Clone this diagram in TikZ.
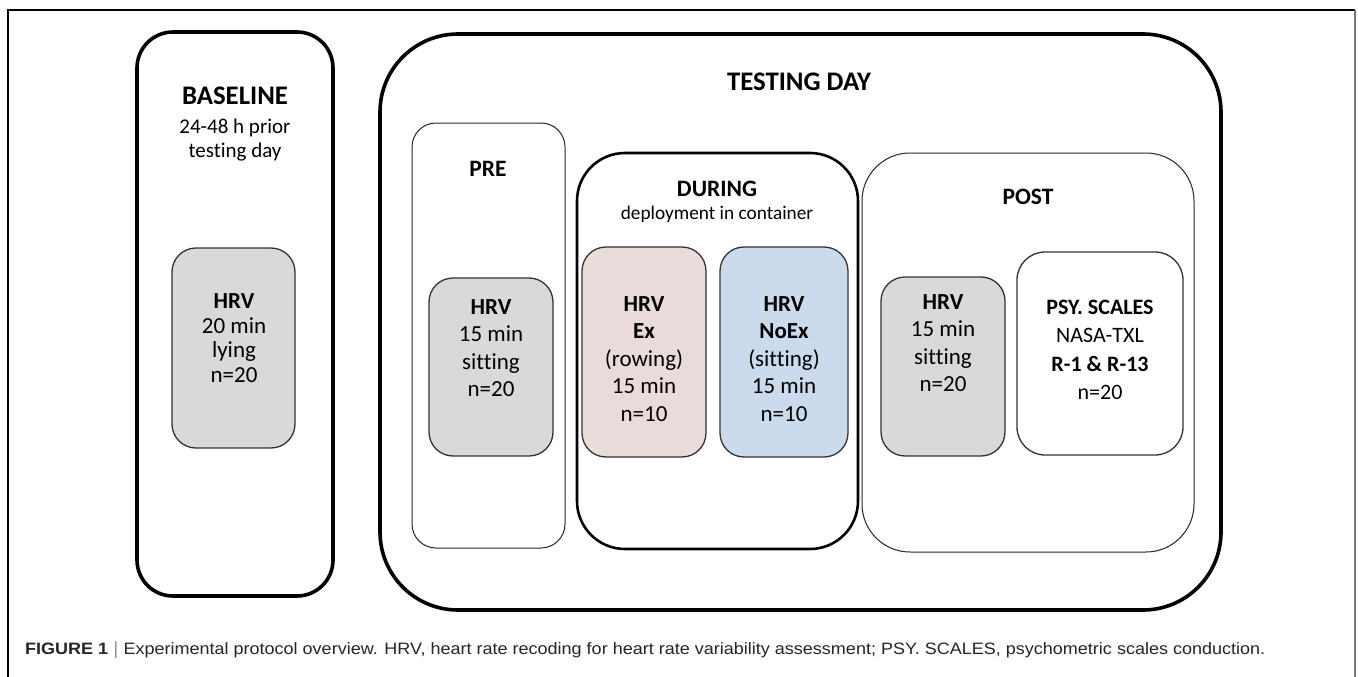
\documentclass[tikz,border=0pt]{standalone}
\usepackage{fontspec}
\setmainfont{Carlito}[Ligatures=NoCommon]
\newfontfamily\capfont{Liberation Sans}
\usepackage{graphicx}
\definecolor{hrvgray}{RGB}{217,217,217}
\definecolor{expink}{RGB}{234,219,219}
\definecolor{noexblue}{RGB}{204,218,238}
\definecolor{framegray}{RGB}{120,120,120}
\begin{document}
\begin{tikzpicture}[x=1pt,y=-1pt,
  thickbox/.style={draw=black, line width=3.6pt},
  midbox/.style={draw=black, line width=2.6pt},
  thinbox/.style={draw=black!85, line width=1pt},
  inner/.style={draw=black!80, line width=1.3pt},
  head/.style={font=\bfseries\fontsize{26.8}{30}\selectfont, inner sep=0pt},
  subhead/.style={font=\bfseries\fontsize{23.5}{26}\selectfont, inner sep=0pt},
  body/.style={align=center, inner sep=0pt, font=\fontsize{23}{27.5}\selectfont},
]
\useasboundingbox (0,0) rectangle (1358,677);
\fill[white] (0,0) rectangle (1358,677);
% outer frame
\draw[line width=1.2pt, black] (8,677) -- (8,10) -- (1355,10);
\draw[line width=1.5pt, framegray] (1355,10) -- (1355,677);

% main boxes
\draw[thickbox, rounded corners=36pt] (137,32) rectangle (333,596);
\draw[thickbox, rounded corners=78pt] (380,34) rectangle (1221,610);
\draw[thinbox, rounded corners=24pt] (412,123) rectangle (565,548);
\draw[midbox, rounded corners=48pt] (577,153) rectangle (858,549);
\draw[thinbox, rounded corners=48pt] (862,153) rectangle (1194,552);

% inner boxes
\draw[inner, fill=hrvgray, rounded corners=24pt] (172,248) rectangle (295,448);
\draw[inner, fill=hrvgray, rounded corners=24pt] (429,278) rectangle (553,456);
\draw[inner, fill=expink, rounded corners=24pt] (582,247) rectangle (706,457);
\draw[inner, fill=noexblue, rounded corners=24pt] (720,247) rectangle (848,457);
\draw[inner, fill=hrvgray, rounded corners=24pt] (881,277) rectangle (1005,456);
\draw[inner, fill=white, rounded corners=28pt] (1017,252) rectangle (1183,455);

% headings
\node[head] (baseline) at (235,96) {BASELINE};
\node[body, font=\fontsize{21}{23.5}\selectfont] (bsub) at (235,140) {24-48 h prior\\testing day};
\node[head] (testing) at (799,82) {TESTING DAY};
\node[subhead] (pre) at (488,169) {PRE};
\node[subhead] (during) at (717,189) {DURING};
\node[inner sep=0pt, font=\fontsize{19.3}{22}\selectfont] (dsub) at (717,214) {deployment in container};
\node[subhead] (post) at (1028,197) {POST};

% inner texts
\node[body, font=\fontsize{23}{24.5}\selectfont] (bhrv) at (234,338) {\textbf{HRV}\\20 min\\lying\\n=20};
\node[body] (prehrv) at (491,348) {\textbf{HRV}\\15 min\\sitting\\n=20};
\node[body] (ex) at (644,359) {\textbf{HRV}\\\textbf{Ex}\\(rowing)\\15 min\\n=10};
\node[body] (noex) at (784,359) {\textbf{HRV}\\\textbf{NoEx}\\(sitting)\\15 min\\n=10};
\node[body] (posthrv) at (943,343) {\textbf{HRV}\\15 min\\sitting\\n=20};
\node[body, font=\fontsize{22}{28.5}\selectfont] (psy) at (1100,350) {\textbf{PSY. SCALES}\\NASA-TXL\\\textbf{R-1 \& R-13}\\n=20};

% caption
\node[anchor=west, inner sep=0pt, font=\capfont\fontsize{16.5}{19}\selectfont, text=black!85] (cap) at (25,650)
  {\resizebox{1240pt}{\height}{\textbf{FIGURE 1} $|$ Experimental protocol overview. HRV, heart rate recoding for heart rate variability assessment; PSY. SCALES, psychometric scales conduction.}};
\end{tikzpicture}
\end{document}
